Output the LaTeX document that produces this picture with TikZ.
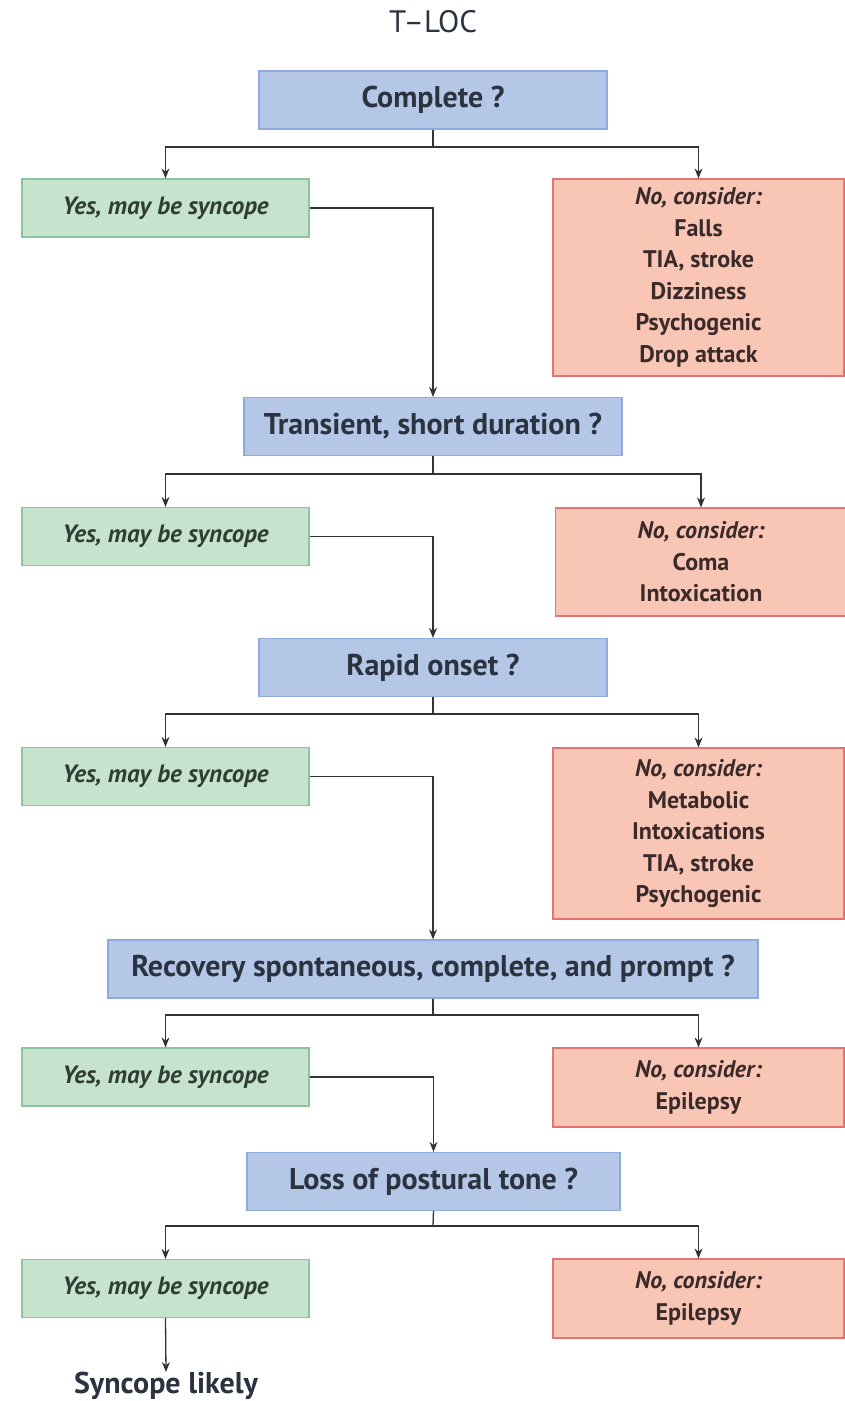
\documentclass[tikz,border=0pt]{standalone}
\usepackage{fontspec}
\setmainfont{PT Sans}
\usetikzlibrary{arrows.meta}
\definecolor{qfill}{HTML}{B4C7E7}
\definecolor{qline}{HTML}{8FAADC}
\definecolor{gfill}{HTML}{C6E3CE}
\definecolor{gline}{HTML}{8CC49C}
\definecolor{rfill}{HTML}{F9C6B6}
\definecolor{rline}{HTML}{E57373}
\definecolor{txt}{HTML}{2B3340}
\definecolor{gtxt}{HTML}{2F3D33}
\definecolor{rtxt}{HTML}{3A2A2A}
\definecolor{lc}{HTML}{333333}
\begin{document}
\begin{tikzpicture}[x=1pt,y=-1pt,
  base/.style={rectangle, draw, line width=1.2pt, inner sep=0pt, align=center, text=txt},
  qbox/.style={base, fill=qfill, draw=qline, minimum height=58, font=\fontsize{30}{34}\selectfont\bfseries},
  ybox/.style={base, fill=gfill, draw=gline, text=gtxt, minimum width=287, minimum height=58, font=\fontsize{25}{28}\selectfont\bfseries\itshape},
  nbox/.style={base, fill=rfill, draw=rline, text=rtxt, minimum width=291, font=\fontsize{24}{31.5}\selectfont\bfseries},
  conn/.style={draw=lc, line width=1.3pt},
  arr/.style={conn, -{Stealth[length=10pt,width=8pt]}},
  plain/.style={text=txt, inner sep=0pt}]
\useasboundingbox (0,0) rectangle (844,1401);

% title
\node[plain, font=\fontsize{31}{34}\selectfont] (title) at (433,22) {T--LOC};

% decision boxes
\node[qbox, minimum width=348] (q1) at (433,100) {Complete ?};
\node[qbox, minimum width=378] (q2) at (433,426.5) {Transient, short duration ?};
\node[qbox, minimum width=348] (q3) at (433,667.5) {Rapid onset ?};
\node[qbox, minimum width=650] (q4) at (433,969) {Recovery spontaneous, complete, and prompt ?};
\node[qbox, minimum width=373] (q5) at (433.5,1181.5) {Loss of postural tone ?};

% yes branches
\node[ybox] (g1) at (165.5,208) {Yes, may be syncope};
\node[ybox] (g2) at (165.5,536.5) {Yes, may be syncope};
\node[ybox] (g3) at (165.5,776.5) {Yes, may be syncope};
\node[ybox] (g4) at (165.5,1077) {Yes, may be syncope};
\node[ybox] (g5) at (165.5,1288.5) {Yes, may be syncope};

% no branches
\node[nbox, minimum height=197] (r1) at (698.5,277.5)
  {{\itshape No, consider:}\\Falls\\TIA, stroke\\Dizziness\\Psychogenic\\Drop attack};
\node[nbox, minimum height=108] (r2) at (701,562)
  {{\itshape No, consider:}\\Coma\\Intoxication};
\node[nbox, minimum height=171] (r3) at (698.5,833.5)
  {{\itshape No, consider:}\\Metabolic\\Intoxications\\TIA, stroke\\Psychogenic};
\node[nbox, minimum height=79] (r4) at (698.5,1087.5)
  {{\itshape No, consider:}\\Epilepsy};
\node[nbox, minimum height=79] (r5) at (698.5,1298.5)
  {{\itshape No, consider:}\\Epilepsy};

\node[plain, font=\fontsize{30}{34}\selectfont\bfseries] (end) at (166,1386) {Syncope likely};

% split points below each question
\coordinate (s1) at (433,147);
\coordinate (s2) at (433,474);
\coordinate (s3) at (433,714);
\coordinate (s4) at (433,1015);
\coordinate (s5) at (433,1226);

\foreach \i in {1,...,5}{
  \draw[conn] (q\i.south) -- (s\i);
  \draw[arr] (s\i) -| (g\i.north);
  \draw[arr] (s\i) -| (r\i.north);
}

% yes boxes lead to the next question
\draw[arr] (g1.east) -| (q2.north);
\draw[arr] (g2.east) -| (q3.north);
\draw[arr] (g3.east) -| (q4.north);
\draw[arr] (g4.east) -| (q5.north);
\draw[arr] (g5.south) -- (end.north);
\end{tikzpicture}
\end{document}
